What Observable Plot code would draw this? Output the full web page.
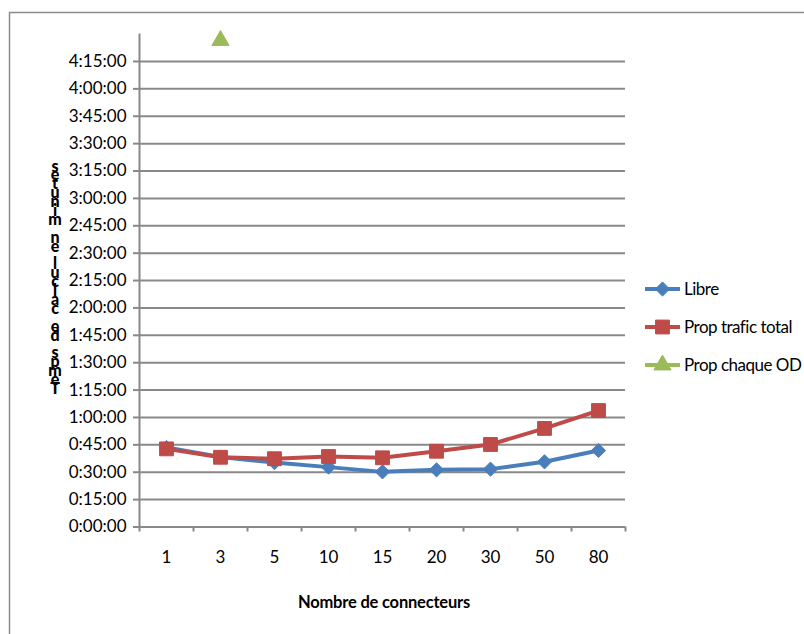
<!DOCTYPE html>
<html>
<head>
<meta charset="utf-8">
<script src="https://cdn.jsdelivr.net/npm/d3@7"></script>
<script src="https://cdn.jsdelivr.net/npm/@observablehq/plot@0.6"></script>
<style>
  html, body { margin: 0; padding: 0; background: white; }
  #chart { position: relative; width: 804px; height: 634px; overflow: hidden; }
</style>
</head>
<body>
<div id="chart"></div>
<script>
// Categories (x axis)
const categories = ["1", "3", "5", "10", "15", "20", "30", "50", "80"];
// Series values in minutes
const libre = [43.5, 38.3, 35.3, 32.8, 30.2, 31.3, 31.7, 35.7, 41.9];
const propTraficTotal = [42.8, 38.2, 37.4, 38.6, 37.9, 41.5, 45.2, 54.0, 63.8];
const propChaqueOD = [null, 266.5, null, null, null, null, null, null, null];
// Y tick values in minutes
const yTicks = [0, 15, 30, 45, 60, 75, 90, 105, 120, 135, 150, 165, 180, 195, 210, 225, 240, 255];
const seriesNames = ["Libre", "Prop trafic total", "Prop chaque OD"];
const colors = ["#4A7EBB", "#BE4B48", "#9BBB59"];
const symbols = ["diamond2", "square", "triangle"];
const yTitle = "Temps de calcul en minutes";
const xTitle = "Nombre de connecteurs";

const fmt = m => {
  const h = Math.floor(m / 60), mm = Math.round(m % 60);
  return `${h}:${String(mm).padStart(2, "0")}:00`;
};

const seriesValues = [libre, propTraficTotal, propChaqueOD];
const rows = [];
seriesValues.forEach((vals, s) => vals.forEach((v, i) => {
  if (v != null) rows.push({series: seriesNames[s], i, x: i + 0.5, y: v});
}));

const radii = [6.4, 7.8, 6.4];
const grid = "#898989";
const marks = [
  Plot.ruleY(yTicks, {stroke: grid, strokeWidth: 2}),
  Plot.ruleX([0], {stroke: grid, strokeWidth: 2}),
  Plot.axisY({ticks: yTicks, tickFormat: fmt, tickSize: 6, tickPadding: 7, stroke: grid, strokeWidth: 2, fill: "black", label: null}),
  Plot.axisX({ticks: d3.range(0, categories.length + 1), tickFormat: () => "", tickSize: 5, stroke: grid, strokeWidth: 2, label: null}),
  Plot.axisX({ticks: categories.map((c, i) => i + 0.5), tickFormat: (d) => categories[Math.round(d - 0.5)], tickSize: 0, tickPadding: 24, fill: "black", label: null}),
];
seriesNames.forEach((name, s) => {
  const data = rows.filter(r => r.series === name);
  marks.push(Plot.line(data, {x: "x", y: "y", stroke: colors[s], strokeWidth: 4}));
  marks.push(Plot.dot(data, {x: "x", y: "y", fill: colors[s], stroke: colors[s], strokeWidth: 1, strokeLinejoin: "round", symbol: symbols[s], r: radii[s]}));
});

const chart = Plot.plot({
  width: 804,
  height: 634,
  marginLeft: 139,
  marginRight: 179,
  marginTop: 33.6,
  marginBottom: 107.5,
  style: {fontFamily: "Lato, 'Open Sans', sans-serif", fontSize: "17px", color: "black", background: "white", overflow: "visible"},
  x: {type: "linear", domain: [0, categories.length], axis: null},
  y: {domain: [0, 270], axis: null},
  marks
});

const svg = d3.select(chart);
// outer chart frame (only top and left edges visible)
svg.insert("rect", ":first-child")
  .attr("x", 9.5).attr("y", 12.5).attr("width", 1000).attr("height", 1000)
  .attr("fill", "none").attr("stroke", "#8a8a8a").attr("stroke-width", 1.5);

// stacked y-axis title (upright letters, reading bottom to top)
const yt = svg.append("text")
  .attr("font-family", "Lato, sans-serif").attr("font-weight", "900").attr("font-size", 16)
  .attr("text-anchor", "middle").attr("fill", "black");
[...yTitle].forEach((ch, k) => {
  yt.append("tspan").attr("x", 55).attr("y", 394 - k * 8.9).text(ch === " " ? "\u00a0" : ch);
});

// x-axis title
svg.append("text")
  .attr("x", 384).attr("y", 608)
  .attr("font-family", "Lato, sans-serif").attr("font-weight", "bold").attr("font-size", 16.5)
  .attr("letter-spacing", -0.2)
  .attr("text-anchor", "middle").attr("fill", "black").text(xTitle);

// legend
const legendY = [289, 327, 365];
const sym = {diamond2: d3.symbolDiamond2, square: d3.symbolSquare, triangle: d3.symbolTriangle};
seriesNames.forEach((name, s) => {
  const g = svg.append("g").attr("transform", `translate(0,${legendY[s]})`);
  g.append("line").attr("x1", 645).attr("x2", 680).attr("y1", 0).attr("y2", 0)
    .attr("stroke", colors[s]).attr("stroke-width", 4);
  g.append("path").attr("transform", "translate(662.5,0)")
    .attr("d", d3.symbol(sym[symbols[s]], Math.PI * radii[s] * radii[s])())
    .attr("fill", colors[s]).attr("stroke", colors[s]).attr("stroke-linejoin", "round");
  g.append("text").attr("x", 684).attr("y", 0).attr("dy", "0.35em")
    .attr("text-anchor", "start")
    .attr("font-family", "Lato, sans-serif").attr("font-size", 17).attr("letter-spacing", -0.5)
    .attr("fill", "black").text(name);
});

document.getElementById("chart").appendChild(chart);
</script>
</body>
</html>
